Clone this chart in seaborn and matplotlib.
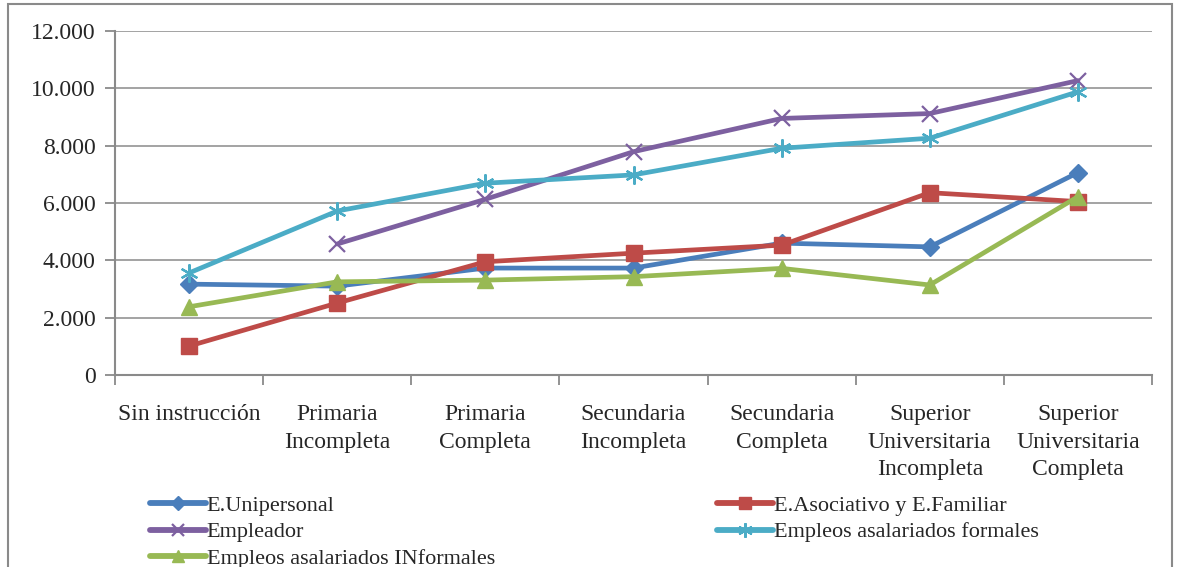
import numpy as np
import pandas as pd
import matplotlib
matplotlib.use("Agg")
import matplotlib.pyplot as plt
from matplotlib.ticker import FixedLocator, FuncFormatter
from matplotlib.patches import Rectangle
import seaborn as sns

# Education levels (x axis)
categories = [
    "Sin instrucción",
    "Primaria\nIncompleta",
    "Primaria\nCompleta",
    "Secundaria\nIncompleta",
    "Secundaria\nCompleta",
    "Superior\nUniversitaria\nIncompleta",
    "Superior\nUniversitaria\nCompleta",
]

series_names = [
    "E.Unipersonal",
    "E.Asociativo y E.Familiar",
    "Empleador",
    "Empleos asalariados formales",
    "Empleos asalariados INformales",
]

unipersonal = [3170, 3100, 3730, 3730, 4600, 4470, 7060]
asociativo = [1010, 2510, 3950, 4250, 4530, 6360, 6050]
empleador = [np.nan, 4570, 6130, 7790, 8950, 9120, 10270]
formales = [3560, 5720, 6690, 6980, 7910, 8260, 9880]
informales = [2380, 3250, 3310, 3430, 3720, 3140, 6220]

y_ticks = [0, 2000, 4000, 6000, 8000, 10000, 12000]

values = [unipersonal, asociativo, empleador, formales, informales]
colors = ["#4A7EBB", "#BE4B48", "#7D60A0", "#4BACC6", "#98B954"]
markers = ["D", "s", "x", (6, 2, 0), "^"]
msizes = [9, 11, 11, 13, 11]
medges = [1, 1, 1.6, 1.6, 1]

rows = []
for name, vals in zip(series_names, values):
    for i, v in enumerate(vals):
        rows.append({"serie": name, "pos": i, "valor": v})
df = pd.DataFrame(rows)

sns.set_style("white")
plt.rcParams["font.family"] = ["Liberation Serif", "DejaVu Serif"]

fig = plt.figure(figsize=(11.82, 5.67), dpi=100)
W, H = 1182, 567
ax = fig.add_axes([115 / W, 1 - 375 / H, (1152 - 115) / W, (375 - 31) / H])

handles = {}
for name, col, mk, ms, mew in zip(series_names, colors, markers, msizes, medges):
    sub = df[df["serie"] == name].dropna()
    sns.lineplot(data=sub, x="pos", y="valor", ax=ax, color=col, lw=3.4,
                 marker=mk, markersize=ms, markeredgewidth=mew,
                 markeredgecolor=col, markerfacecolor=col, label=name,
                 legend=False, zorder=3)
    handles[name] = ax.lines[-1]

ax.set_xlim(-0.5, len(categories) - 0.5)
ax.set_ylim(0, 12000)
ax.set_xlabel("")
ax.set_ylabel("")

# y axis
ax.yaxis.set_major_locator(FixedLocator(y_ticks))
ax.yaxis.set_major_formatter(FuncFormatter(lambda v, p: f"{int(v):,}".replace(",", ".")))
ax.grid(axis="y", color="#8A8A8A", lw=1.1)
ax.grid(axis="x", visible=False)
ax.set_axisbelow(True)

# x axis: ticks on category boundaries, labels centered on categories
ax.xaxis.set_major_locator(FixedLocator(np.arange(-0.5, len(categories), 1.0)))
ax.xaxis.set_major_formatter(FuncFormatter(lambda v, p: ""))
ax.xaxis.set_minor_locator(FixedLocator(np.arange(len(categories))))
ax.set_xticklabels(categories, minor=True, fontsize=17, linespacing=1.4, va="top")

ax.tick_params(axis="x", which="major", direction="out", length=7, width=1.3,
               color="#8A8A8A", bottom=True)
ax.tick_params(axis="x", which="minor", length=0, pad=21)
ax.tick_params(axis="y", direction="out", length=7, width=1.3, color="#8A8A8A",
               left=True, labelsize=17, pad=7)

for s in ["top", "right"]:
    ax.spines[s].set_visible(False)
for s in ["left", "bottom"]:
    ax.spines[s].set_color("#8A8A8A")
    ax.spines[s].set_linewidth(1.5)

# Legend in two columns
leg_kw = dict(frameon=False, fontsize=16, handlelength=2.5, handletextpad=0.05,
              borderpad=0, borderaxespad=0, labelspacing=0.28, loc="upper left")
left_names = [series_names[0], series_names[2], series_names[4]]
right_names = [series_names[1], series_names[3]]
leg1 = fig.legend([handles[n] for n in left_names], left_names,
                  bbox_to_anchor=(150 / W, 1 - 495 / H), **leg_kw)
leg2 = fig.legend([handles[n] for n in right_names], right_names,
                  bbox_to_anchor=(717 / W, 1 - 495 / H), **leg_kw)
for leg in (leg1, leg2):
    for h in leg.legend_handles:
        h.set_markersize(h.get_markersize() * 0.8)
        h.set_linewidth(4.2)

# Outer chart frame
fig.patches.append(Rectangle((8 / W, -0.05), (1172 - 8) / W, 1.05 - 4 / H,
                             transform=fig.transFigure, fill=False,
                             edgecolor="#8A8A8A", lw=1.5))

fig.savefig("out.png", dpi=100)
